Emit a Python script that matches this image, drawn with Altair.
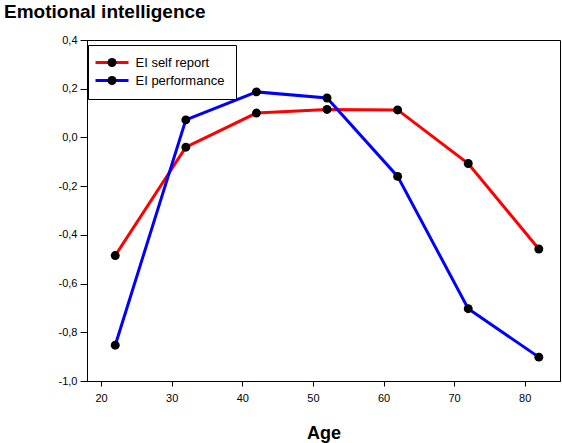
import altair as alt
import pandas as pd

ages = [22, 32, 42, 52, 62, 72, 82]
self_report = [-0.485, -0.04, 0.10, 0.115, 0.113, -0.107, -0.458]
performance = [-0.853, 0.072, 0.187, 0.162, -0.160, -0.703, -0.902]
series_names = ["EI self report", "EI performance"]
series_colors = ["#ff0000", "#0000ff"]
y_ticks = [-1.0, -0.8, -0.6, -0.4, -0.2, 0.0, 0.2, 0.4]
x_ticks = [20, 30, 40, 50, 60, 70, 80]

marker_keys = ["marker 1", "marker 2"]

rows = []
for name, key, vals in zip(series_names, marker_keys, [self_report, performance]):
    for a, v in zip(ages, vals):
        rows.append({"age": a, "value": v, "series": name, "marker": key})
df = pd.DataFrame(rows)

FONT = "Liberation Sans"

x_enc = alt.X("age:Q", scale=alt.Scale(domain=[18, 85], nice=False, zero=False),
              axis=alt.Axis(values=x_ticks, title="Age", titleFontSize=18,
                            titleFontWeight="bold", titlePadding=21, format="d",
                            tickSize=5, labelPadding=6))
y_enc = alt.Y("value:Q", scale=alt.Scale(domain=[-1.0, 0.4], nice=False, zero=False),
              axis=alt.Axis(values=y_ticks, title=None, tickSize=7, labelPadding=3,
                            labelExpr="replace(replace(format(datum.value, '.1f'), '.', ','), '\u2212', '-')"))

lines = alt.Chart(df).mark_line(strokeWidth=3).encode(
    x=x_enc, y=y_enc,
    color=alt.Color("series:N",
                    scale=alt.Scale(domain=series_names, range=series_colors),
                    legend=alt.Legend(title=None, orient="none", legendX=1, legendY=5,
                                      symbolType="M-3.3,0H3.3", symbolSize=100,
                                      symbolStrokeWidth=3, symbolOffset=6.5,
                                      labelOffset=17, labelFontSize=13, labelFont=FONT,
                                      labelColor="black", rowPadding=4, padding=11,
                                      strokeColor="black", fillColor="white",
                                      labelLimit=300)),
    order="age:Q",
)

points = alt.Chart(df).mark_point(filled=True, size=80, opacity=1).encode(
    x="age:Q", y="value:Q",
    color=alt.value("black"),
    shape=alt.Shape("marker:N",
                    scale=alt.Scale(domain=marker_keys, range=["circle", "circle"]),
                    legend=alt.Legend(title=None, orient="none", legendX=1, legendY=5,
                                      symbolSize=80, symbolStrokeWidth=0,
                                      symbolFillColor="black", symbolOffset=6.5,
                                      labelOffset=17, labelFontSize=13, labelFont=FONT,
                                      labelExpr="''", rowPadding=4, padding=11,
                                      zindex=5)),
)

chart = alt.layer(lines, points).properties(
    width=473, height=341,
    autosize=alt.AutoSizeParams(type="none"),
    padding={"left": 87, "top": 40, "right": 2, "bottom": 62},
    background="white",
    title=alt.TitleParams(text="Emotional intelligence", anchor="start", frame="group",
                          dx=-83, dy=3, offset=0, baseline="alphabetic", fontSize=19,
                          font=FONT, fontWeight="bold", color="black"),
).configure_view(stroke="black", strokeWidth=1).configure_axis(
    labelFont=FONT, labelFontSize=11, labelColor="black", titleFont=FONT,
    titleColor="black", tickColor="black", domainColor="black", grid=False,
)

chart.save("out.html", embed_options={"renderer": "svg", "actions": False})
